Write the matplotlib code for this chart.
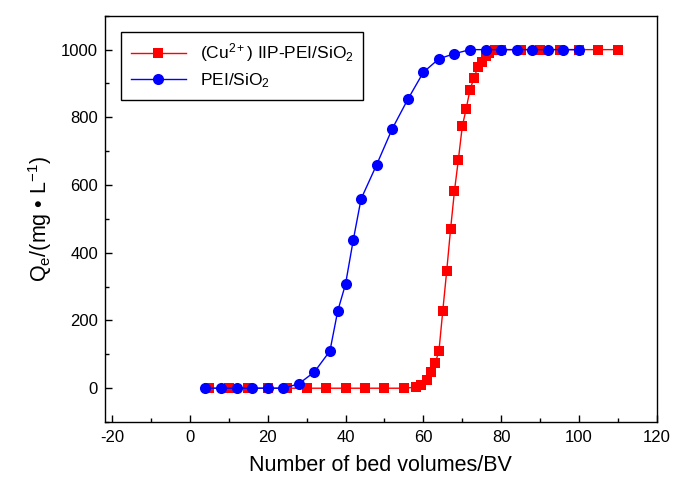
import matplotlib
matplotlib.use('Agg')
import matplotlib.pyplot as plt
from matplotlib.ticker import MultipleLocator

plt.rcParams['font.family'] = ['Liberation Sans', 'DejaVu Sans']
plt.rcParams['mathtext.fontset'] = 'custom'
plt.rcParams['mathtext.rm'] = 'Liberation Sans'
plt.rcParams['mathtext.it'] = 'Liberation Sans:italic'
plt.rcParams['axes.unicode_minus'] = False

# (Cu2+) IIP-PEI/SiO2
iip_x = [5, 10, 15, 20, 25, 30, 35, 40, 45, 50, 55,
         58, 59.5, 61, 62, 63, 64, 65, 66, 67, 68, 69,
         70, 71, 72, 73, 74, 75, 76, 77, 78.5, 80,
         85, 90, 95, 100, 105, 110]
iip_y = [0, 0, 0, 0, 0, 0, 0, 0, 0, 0, 0,
         3, 9, 24, 48, 73, 109, 229, 346, 470, 583, 675,
         773, 825, 882, 916, 948, 963, 981, 990, 1000, 1000,
         1000, 1000, 1000, 1000, 1000, 1000]

# PEI/SiO2
pei_x = [4, 8, 12, 16, 20, 24, 28, 32, 36, 38, 40, 42, 44, 48, 52,
         56, 60, 64, 68, 72, 76, 80, 84, 88, 92, 96, 100]
pei_y = [0, 0, 0, 0, 0, 0, 13, 48, 110, 228, 307, 438, 559, 660, 766,
         853, 933, 973, 988, 1000, 1000, 1000, 1000, 1000, 1000, 1000, 1000]

fig = plt.figure(figsize=(6.73, 4.78), dpi=100)
ax = fig.add_axes([0.156, 0.117, 0.82, 0.85])

ax.plot(iip_x, iip_y, color='red', linewidth=1.0, marker='s',
        markersize=7.0, markeredgewidth=0,
        label=r'(Cu$^{2+}$) IIP-PEI/SiO$_2$')
ax.plot(pei_x, pei_y, color='blue', linewidth=1.0, marker='o',
        markersize=8.0, markeredgewidth=0,
        label=r'PEI/SiO$_2$')

ax.set_xlim(-21.8, 120)
ax.set_ylim(-100, 1100)
ax.xaxis.set_major_locator(MultipleLocator(20))
ax.xaxis.set_minor_locator(MultipleLocator(10))
ax.yaxis.set_major_locator(MultipleLocator(200))
ax.yaxis.set_minor_locator(MultipleLocator(100))
ax.tick_params(which='both', direction='in', top=False, right=False,
               labelsize=12, width=1.0)
ax.tick_params(which='major', length=5)
ax.tick_params(which='minor', length=3)
ax.tick_params(axis='x', pad=6)
ax.tick_params(axis='y', pad=5)
for spine in ax.spines.values():
    spine.set_linewidth(1.0)

ax.set_xlabel('Number of bed volumes/BV', fontsize=15.5, labelpad=7)
ax.set_ylabel(r'Q$_\mathregular{e}$/(mg • L$^\mathregular{-1}$)', fontsize=15.5, labelpad=5)

legend = ax.legend(loc='upper left', bbox_to_anchor=(0.029, 0.96),
                   borderaxespad=0, fontsize=12.5, fancybox=False,
                   edgecolor='black', framealpha=1, handlelength=3.2,
                   borderpad=0.55, labelspacing=0.4)
legend.get_frame().set_linewidth(1.0)

fig.savefig('out.png', dpi=100)
